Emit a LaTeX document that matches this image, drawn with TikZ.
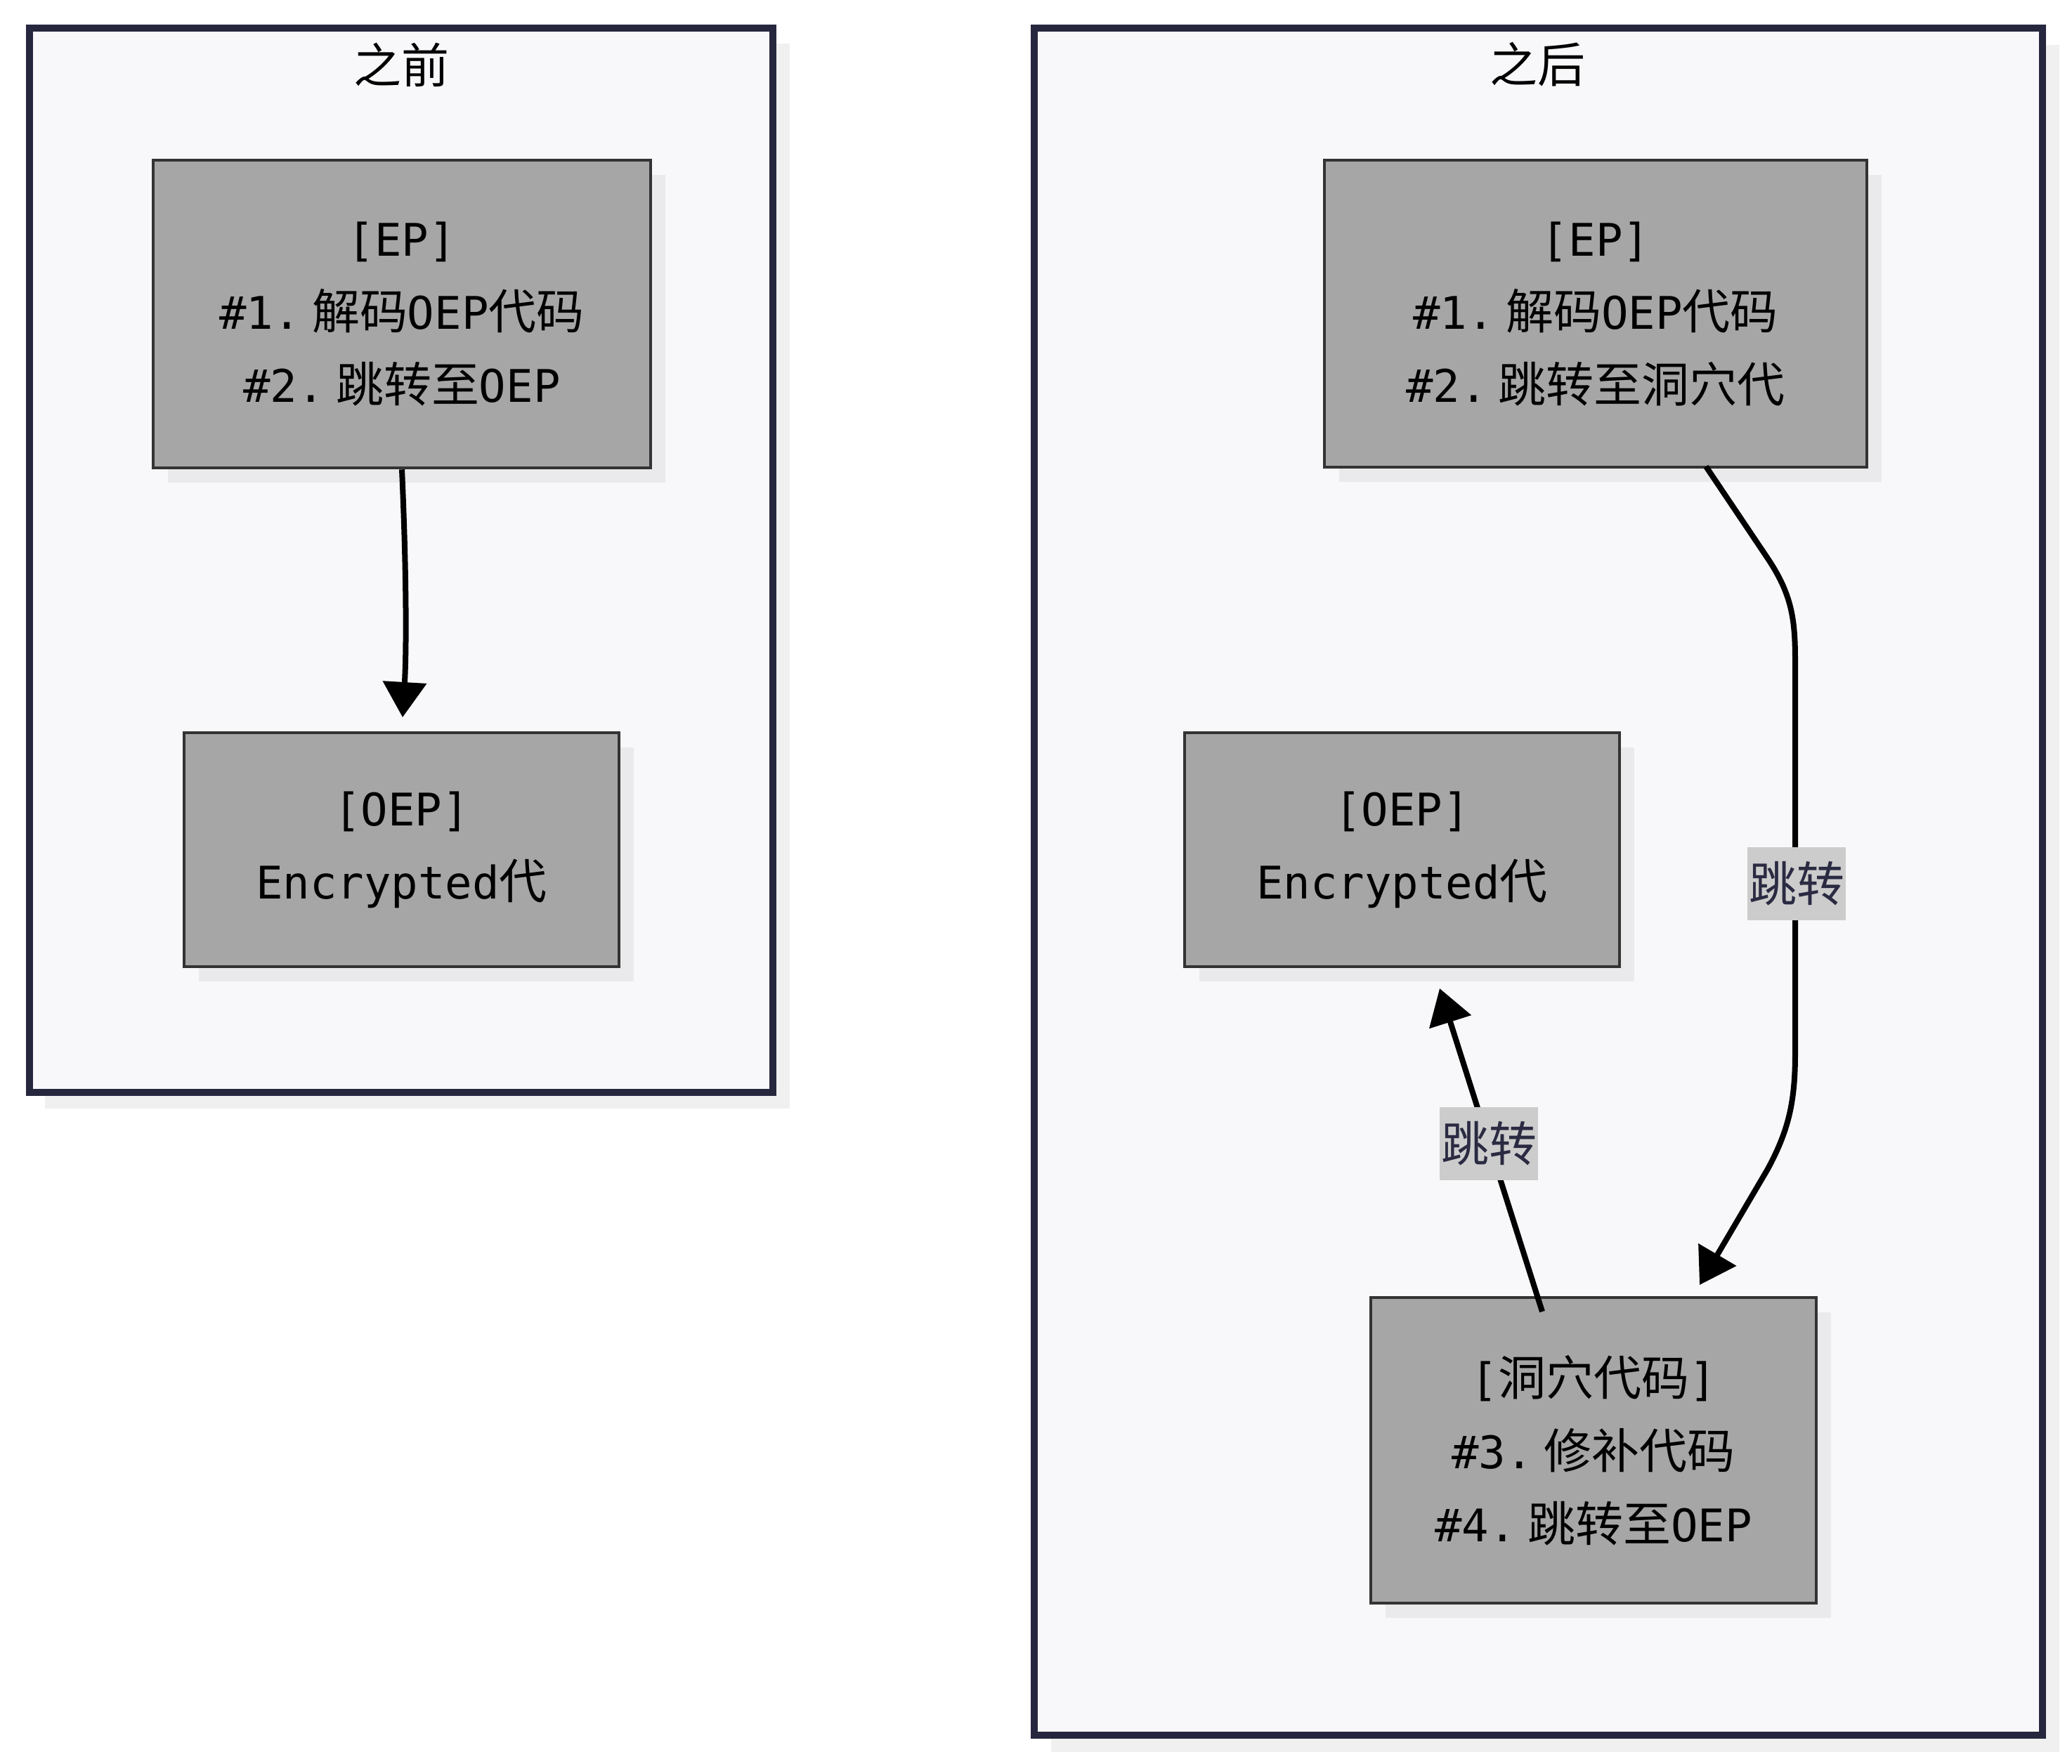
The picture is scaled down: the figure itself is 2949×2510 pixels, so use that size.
\documentclass[tikz,border=0pt]{standalone}
\usepackage{fontspec}
\setmainfont{DejaVu Sans Mono}
\newfontfamily\cjk[Scale=1.0625]{Noto Sans CJK SC}
\newcommand\zh[1]{{\cjk #1}}
\usetikzlibrary{arrows.meta,shadows}
\definecolor{clfill}{RGB}{248,248,250}
\definecolor{clborder}{RGB}{38,38,62}
\definecolor{clshadow}{RGB}{240,240,240}
\definecolor{ndfill}{RGB}{166,166,166}
\definecolor{ndborder}{RGB}{51,51,51}
\definecolor{ndshadow}{RGB}{234,234,236}
\definecolor{lblbg}{RGB}{204,204,204}
\definecolor{lbltext}{RGB}{42,42,66}
\tikzset{
  x=0.25pt, y=-0.25pt,
  cluster/.style={draw=clborder, fill=clfill, line width=2.5pt},
  cltitle/.style={font=\fontsize{16pt}{26pt}\selectfont, text=black, inner sep=0pt},
  nodebox/.style={rectangle, draw=ndborder, fill=ndfill, line width=1.15pt,
    align=center, inner sep=0pt, font=\fontsize{16pt}{26pt}\selectfont,
    drop shadow={fill=ndshadow, opacity=1, shadow xshift=5.25pt, shadow yshift=-5.25pt}},
  edge/.style={draw=black, line width=2pt, -{Triangle[width=15.25pt,length=12.5pt]}},
  elabel/.style={fill=lblbg, text=lbltext, inner sep=0pt, minimum width=35pt,
    minimum height=26pt, font=\fontsize{16pt}{26pt}\selectfont},
}
\newcommand\gapsp{\hspace{4pt}}
\begin{document}
\begin{tikzpicture}
\useasboundingbox[fill=white] (0,0) rectangle (2949,2510);
% clusters
\fill[clshadow] (64,62) rectangle (1124,1578);
\draw[cluster] (42,40) rectangle (1100,1555);
\fill[clshadow] (1496,64) rectangle (2931,2494);
\draw[cluster] (1472,40) rectangle (2907,2470);
\node[cltitle] (tbefore) at (571,92) {\zh{之前}};
\node[cltitle] (tafter) at (2188,92) {\zh{之后}};
% nodes
\node[nodebox, minimum width=177pt, minimum height=109.5pt] (epL) at (572,447)
  {[EP]\\\#1.\gapsp\zh{解码}OEP\zh{代码}\\\#2.\gapsp\zh{跳转至}OEP};
\node[nodebox, minimum width=154.75pt, minimum height=83.25pt] (oepL) at (571.5,1209.5)
  {[OEP]\\Encrypted\zh{代}};
\node[nodebox, minimum width=193pt, minimum height=109.25pt] (epR) at (2271,446.5)
  {[EP]\\\#1.\gapsp\zh{解码}OEP\zh{代码}\\\#2.\gapsp\zh{跳转至洞穴代}};
\node[nodebox, minimum width=154.75pt, minimum height=83.25pt] (oepR) at (1995.5,1209.5)
  {[OEP]\\Encrypted\zh{代}};
\node[nodebox, minimum width=158.5pt, minimum height=108.75pt] (cave) at (2268,2064.5)
  {[\zh{洞穴代码}]\\\#3.\gapsp\zh{修补代码}\\\#4.\gapsp\zh{跳转至}OEP};
% edge end points
\coordinate (t1) at (573,1021);
\coordinate (s2) at (2428,664);
\coordinate (t2) at (2419,1829);
\coordinate (s3) at (2195,1867);
\coordinate (t3) at (2049,1407);
% edges
\draw[edge] (epL.south) .. controls (578,800) and (579,920) .. (t1);
\draw[edge] (s2) -- (2514,792) .. controls (2550,845) and (2555,880) .. (2555,940)
  -- (2555,1500) .. controls (2555,1570) and (2545,1610) .. (2516,1664) -- (t2);
\node[elabel] (l1) at (2557,1258) {\zh{跳转}};
\draw[edge] (s3) -- (t3) node[elabel, pos=0.52] (l2) {\zh{跳转}};
\end{tikzpicture}
\end{document}
